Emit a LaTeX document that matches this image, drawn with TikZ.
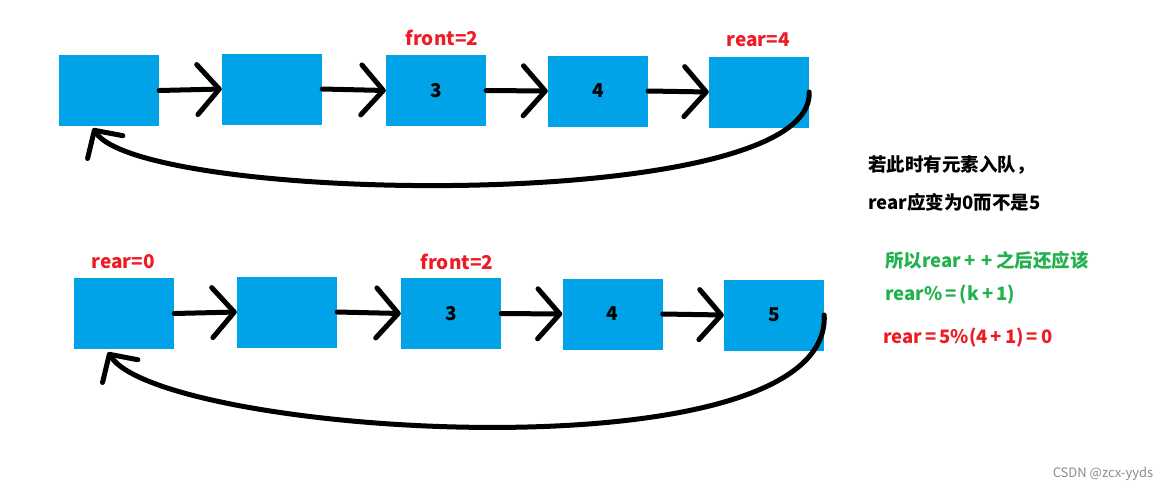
\documentclass[tikz,border=0pt]{standalone}
\usepackage{fontspec}
\setmainfont{Noto Sans CJK SC}
\usetikzlibrary{arrows.meta}
\definecolor{boxblue}{HTML}{00A2E8}
\definecolor{lblred}{HTML}{ED1C24}
\definecolor{lblgreen}{HTML}{22B14C}
\newcommand{\pl}{\,+\,}
\newcommand{\eq}{\,=\,}
\begin{document}
\begin{tikzpicture}[x=1pt,y=-1pt,
  cell/.style={fill=boxblue, draw=none, minimum width=100pt, minimum height=71pt, inner sep=0pt, font=\bfseries\fontsize{19}{20}\selectfont},
  link/.style={line width=5pt, line cap=round, -{Straight Barb[length=22pt,width=50pt,round]}},
  back/.style={line width=5pt, line cap=round, -{Straight Barb[length=20pt,width=42pt,round]}},
  lbl/.style={font=\bfseries\fontsize{19}{22}\selectfont, text=lblred, inner sep=0pt},
  note/.style={font=\bfseries\fontsize{18.5}{22}\selectfont, anchor=west, inner sep=0pt},
]
\fill[white] (0,0) rectangle (1169,491);
\useasboundingbox (0,0) rectangle (1169,491);

% top row
\node[cell] (t1) at (109,90.5) {};
\node[cell] (t2) at (272,89) {};
\node[cell] (t3) at (436,90.5) {3};
\node[cell] (t4) at (598,91) {4};
\node[cell] (t5) at (759,92) {};
\draw[link] (t1.east) -- (t2.west);
\draw[link] (t2.east) -- (t3.west);
\draw[link] (t3.east) -- (t4.west);
\draw[link] (t4.east) -- (t5.west);
\draw[back] (t5.east) .. controls (815,215) and (142,204) .. ([xshift=-16pt,yshift=-2pt]t1.south);
\node[lbl] (lf1) at (442,38) {front=2};
\node[lbl] (lr1) at (758,40) {rear=4};

% bottom row
\node[cell] (b1) at (124,313.5) {};
\node[cell] (b2) at (287,312) {};
\node[cell] (b3) at (451,313.5) {3};
\node[cell] (b4) at (612.5,314) {4};
\node[cell] (b5) at (774,315) {5};
\draw[link] (b1.east) -- (b2.west);
\draw[link] (b2.east) -- (b3.west);
\draw[link] (b3.east) -- (b4.west);
\draw[link] (b4.east) -- (b5.west);
\draw[back] (b5.east) .. controls (832,480) and (162,436) .. ([xshift=-16pt,yshift=-3pt]b1.south);
\node[lbl] (lr2) at (123,262) {rear=0};
\node[lbl] (lf2) at (457,262) {front=2};

% notes
\node[note] (n1) at (868,165) {若此时有元素入队，};
\node[note] (n2) at (868,202) {rear应变为0而不是5};
\node[note, text=lblgreen] (n3) at (885,260) {所以rear\pl\pl 之后还应该};
\node[note, text=lblgreen] (n4) at (885,295) {rear\%\eq(k\pl1)};
\node[note, text=lblred] (n5) at (883,338) {rear\eq5\%(4\pl1)\eq0};

\node[font=\fontsize{13}{15}\selectfont, text=black!45, inner sep=0pt] (wm) at (1103,474) {CSDN @zcx-yyds};
\end{tikzpicture}
\end{document}
